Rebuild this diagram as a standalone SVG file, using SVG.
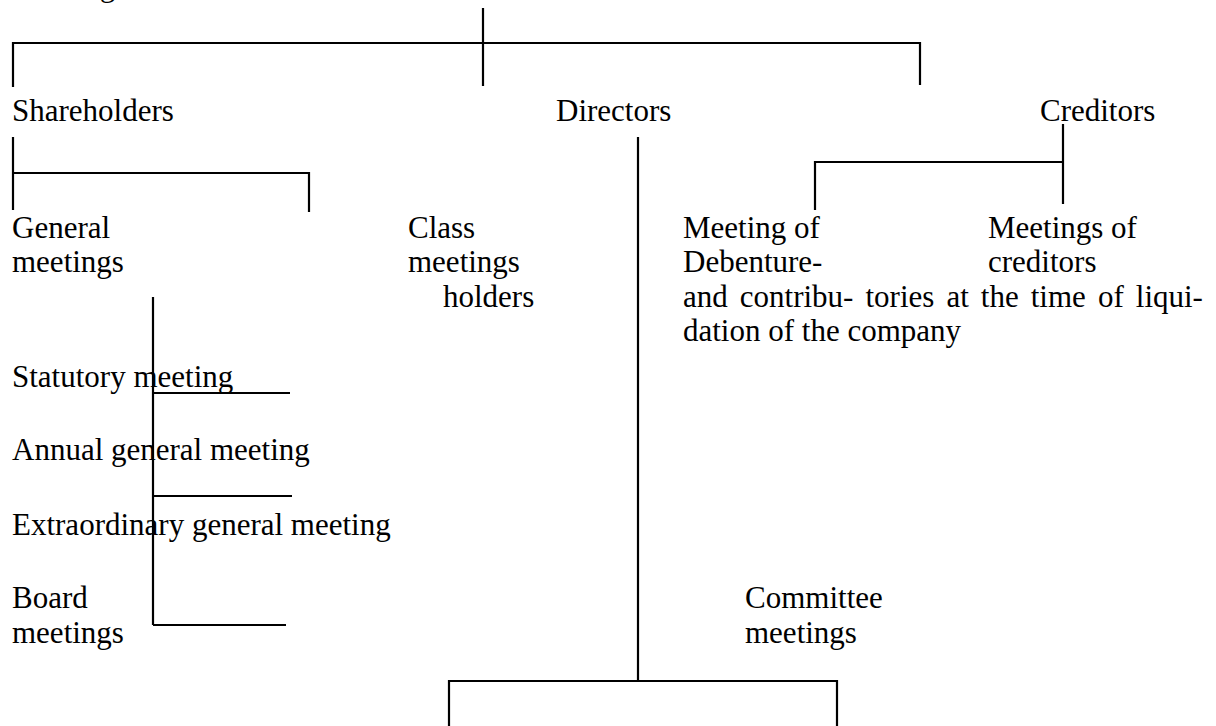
<svg xmlns="http://www.w3.org/2000/svg" width="1216" height="726" viewBox="0 0 1216 726">
<style>
text{font-family:"Liberation Serif","Times New Roman",serif;font-size:31px;fill:#000}
.ln{stroke:#000;stroke-width:2.2;fill:none}
</style>
<rect width="1216" height="726" fill="#fff"/>
<g id="connectors">
<path class="ln" d="M483 8V86M13 43H920M13 42V87M920 42V85"/>
<path class="ln" d="M13 137V210M13 173H309M309 172V212"/>
<path class="ln" d="M638 137V681"/>
<path class="ln" d="M1063 124V204M815 162H1064M815 161V210"/>
<path class="ln" d="M153 297V625M153 393H290M153 496H292M153 625H286"/>
<path class="ln" d="M449 681H837M449 680V726M837 680V726"/>
</g>
<g id="top"><text x="12" y="-4">Meetings</text></g>
<g id="shareholders"><text x="12" y="121">Shareholders</text></g>
<g id="directors"><text x="556" y="121">Directors</text></g>
<g id="creditors"><text x="1040" y="121">Creditors</text></g>
<g id="general-meetings"><text x="12" y="238">General</text><text x="12" y="272">meetings</text></g>
<g id="class-meetings"><text x="408" y="238">Class</text><text x="408" y="272">meetings</text><text x="443" y="307">holders</text></g>
<g id="debenture-meetings"><text x="683" y="238">Meeting of</text><text x="683" y="272">Debenture-</text><text x="683" y="307" word-spacing="4.3">and contribu- tories at the time of liqui-</text><text x="683" y="341">dation of the company</text></g>
<g id="creditor-meetings"><text x="988" y="238">Meetings of</text><text x="988" y="272">creditors</text></g>
<g id="statutory"><text x="12" y="387">Statutory meeting</text></g>
<g id="annual"><text x="12" y="460">Annual general meeting</text></g>
<g id="extraordinary"><text x="12" y="535">Extraordinary general meeting</text></g>
<g id="board"><text x="12" y="608">Board</text><text x="12" y="643">meetings</text></g>
<g id="committee"><text x="745" y="608">Committee</text><text x="745" y="643">meetings</text></g>
</svg>
